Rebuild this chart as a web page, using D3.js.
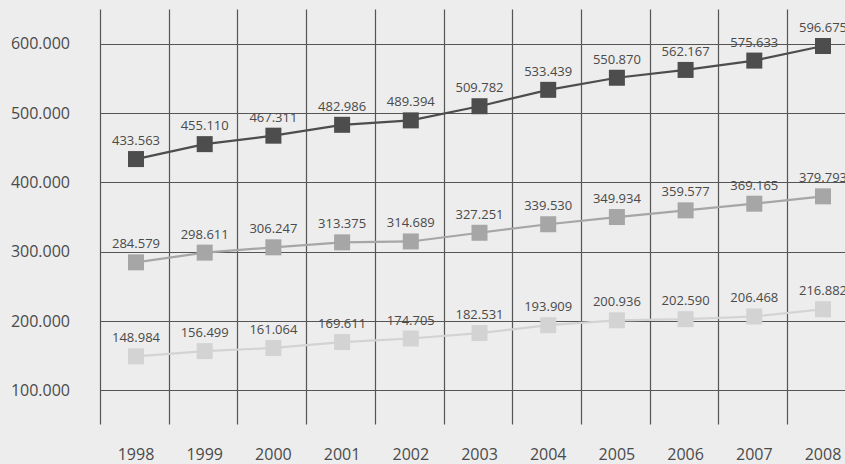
<!DOCTYPE html>
<html><head><meta charset="utf-8">
<script src="https://cdn.jsdelivr.net/npm/d3@7"></script>
<style>
html,body{margin:0;padding:0;background:#ededed;}
svg{display:block;}
text{font-family:"Open Sans",sans-serif;fill:#4a4a4a;}
</style></head><body>
<svg id="chart" width="845" height="464"></svg>
<script>
const years = ["1998","1999","2000","2001","2002","2003","2004","2005","2006","2007","2008"];
const seriesTop = [433.563,455.110,467.311,482.986,489.394,509.782,533.439,550.870,562.167,575.633,596.675];
const seriesMid = [284.579,298.611,306.247,313.375,314.689,327.251,339.530,349.934,359.577,369.165,379.793];
const seriesLow = [148.984,156.499,161.064,169.611,174.705,182.531,193.909,200.936,202.590,206.468,216.882];
const yTicks = [100,200,300,400,500,600];
const colors = ["#4d4d4d","#a6a6a6","#d3d3d3"];

const svg = d3.select("#chart");
const W = 845, H = 464;
const x = d3.scaleBand().domain(years).range([100, 100 + 11*68.7]).paddingInner(0).paddingOuter(0);
const cx = d => x(d) + 36;
const y = d3.scaleLinear().domain([0, 600]).range([459.6, 43.7]);
const fmt = v => v.toFixed(3);
const gridColor = "#555";

// horizontal grid
svg.append("g").selectAll("line").data(yTicks).join("line")
  .attr("x1", 100).attr("x2", W)
  .attr("y1", d => Math.round(y(d)) + 0.5).attr("y2", d => Math.round(y(d)) + 0.5)
  .attr("stroke", gridColor).attr("stroke-width", 1.2);
// vertical grid
svg.append("g").selectAll("line").data(years).join("line")
  .attr("x1", d => Math.round(x(d)) + 0.5).attr("x2", d => Math.round(x(d)) + 0.5)
  .attr("y1", 9.5).attr("y2", 424.5)
  .attr("stroke", gridColor).attr("stroke-width", 1.2);

// y labels
svg.append("g").selectAll("text").data(yTicks).join("text")
  .attr("x", 70).attr("y", d => y(d)).attr("dy", "0.35em")
  .attr("text-anchor", "end").attr("font-size", 16)
  .text(d => fmt(d));
// x labels
svg.append("g").selectAll("text").data(years).join("text")
  .attr("x", d => cx(d)).attr("y", 454).attr("dy", "0.35em")
  .attr("text-anchor", "middle").attr("font-size", 16)
  .text(d => d);

const allSeries = [seriesTop, seriesMid, seriesLow];
const line = d3.line().x((d,i) => cx(years[i])).y(d => y(d));
allSeries.forEach((s, k) => {
  const g = svg.append("g");
  g.append("path").datum(s).attr("d", line).attr("fill", "none")
    .attr("stroke", colors[k]).attr("stroke-width", 2.2);
  g.selectAll("rect").data(s).join("rect")
    .attr("x", (d,i) => cx(years[i]) - 8).attr("y", d => y(d) - 8)
    .attr("width", 16).attr("height", 16).attr("fill", colors[k]);
  g.selectAll("text").data(s).join("text")
    .attr("x", (d,i) => cx(years[i])).attr("y", d => y(d) - 14)
    .attr("text-anchor", "middle").attr("font-size", 13)
    .text(d => fmt(d));
});
</script></body></html>
